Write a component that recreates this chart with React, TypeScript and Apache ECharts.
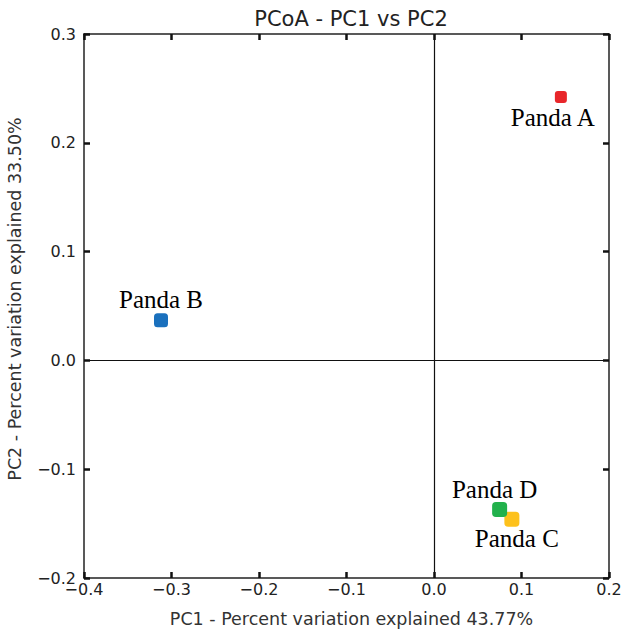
import React, { useEffect, useRef } from "react";
import * as echarts from "echarts";

const samples = ["Panda A", "Panda B", "Panda C", "Panda D"];
const pc1 = [0.145, -0.312, 0.089, 0.075];
const pc2 = [0.242, 0.037, -0.146, -0.137];
const colors = ["#e8262a", "#1a70bd", "#fdc11c", "#22b14c"];
const sizes = [12, 14, 15, 15];
const labelPos = ["bottom", "top", "bottom", "top"];
const labelOffset = [[-8, -1], [0, 2], [5, -4], [-5, 3]];
const xTicks = { min: -0.4, max: 0.2, interval: 0.1 };
const yTicks = { min: -0.2, max: 0.3, interval: 0.1 };

const fmt = (v: number) => {
  const s = (Math.abs(v) < 1e-9 ? 0 : v).toFixed(1);
  return s.replace("-", "\u2212");
};

export default function App() {
  const ref = useRef<HTMLDivElement>(null);
  useEffect(() => {
    document.body.style.margin = "0";
    const chart = echarts.init(ref.current!, null, { renderer: "svg" });
    const axisLine = { show: true, onZero: false, lineStyle: { color: "#222", width: 1.5 } };
    const axisTick = { show: true, inside: true, length: 6, lineStyle: { color: "#111", width: 2.5 } };
    const axisLabel = { fontFamily: "DejaVu Sans", fontSize: 16, color: "#222", formatter: fmt, margin: 3 };
    const nameStyle = { fontFamily: "DejaVu Sans", fontSize: 17.5, color: "#333" };
    chart.setOption({
      animation: false,
      backgroundColor: "#fff",
      title: {
        text: "PCoA - PC1 vs PC2",
        left: 346,
        textAlign: "center",
        top: 3,
        textStyle: { fontFamily: "DejaVu Sans", fontSize: 21, fontWeight: "normal", color: "#222" },
      },
      grid: { left: 84, right: 16, top: 34, bottom: 54, outerBoundsMode: "none", containLabel: false },
      xAxis: [
        {
          type: "value", ...xTicks, position: "bottom",
          axisLine, axisTick, axisLabel, splitLine: { show: false },
          name: "PC1 - Percent variation explained 43.77%",
          nameLocation: "middle", nameGap: 32,
          nameTextStyle: { ...nameStyle, padding: [0, 0, 0, 10] },
        },
        {
          type: "value", ...xTicks, position: "top",
          axisLine, axisTick, axisLabel: { show: false }, splitLine: { show: false },
        },
      ],
      yAxis: [
        {
          type: "value", ...yTicks, position: "left",
          axisLine, axisTick, axisLabel: { ...axisLabel, margin: 8 }, splitLine: { show: false },
          name: "PC2 - Percent variation explained 33.50%",
          nameLocation: "middle", nameGap: 60,
          nameTextStyle: { ...nameStyle, padding: [0, 0, 0, 14] },
        },
        {
          type: "value", ...yTicks, position: "right",
          axisLine, axisTick, axisLabel: { show: false }, splitLine: { show: false },
        },
      ],
      series: [
        {
          type: "scatter",
          xAxisIndex: 0,
          yAxisIndex: 0,
          data: samples.map((s, i) => ({
            name: s,
            value: [pc1[i], pc2[i]],
            symbolSize: sizes[i],
            itemStyle: { color: colors[i], opacity: 1 },
            label: { position: labelPos[i], offset: labelOffset[i] },
          })),
          symbol: "roundRect",
          label: {
            show: true,
            formatter: "{b}",
            fontFamily: "Liberation Serif",
            fontSize: 25,
            color: "#000",
            distance: 3,
          },
          markLine: {
            silent: true,
            symbol: "none",
            label: { show: false },
            lineStyle: { color: "#111", width: 1.2, type: "solid" },
            data: [{ xAxis: 0 }, { yAxis: 0 }],
          },
        },
      ],
    });
    return () => chart.dispose();
  }, []);
  return <div ref={ref} style={{ width: 625, height: 632 }} />;
}
